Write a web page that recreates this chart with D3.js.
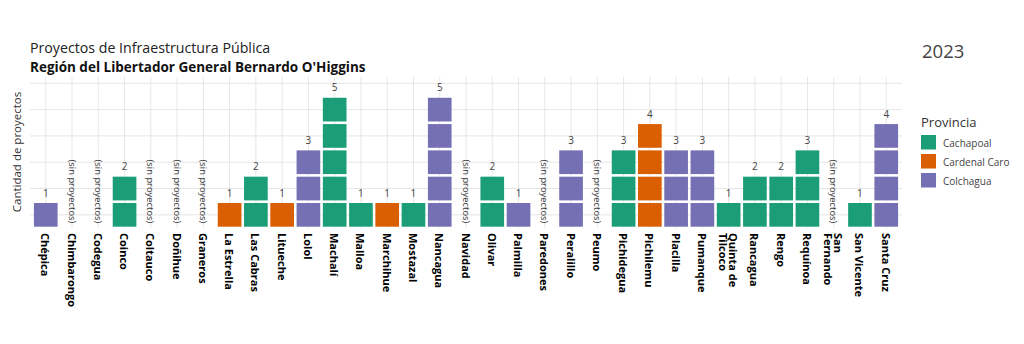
<!DOCTYPE html>
<html>
<head>
<meta charset="utf-8">
<script src="https://cdn.jsdelivr.net/npm/d3@7"></script>
<style>
  html, body { margin: 0; padding: 0; background: #ffffff; }
  svg { display: block; font-family: "Open Sans", "Noto Sans", sans-serif; }
</style>
</head>
<body>
<svg id="chart" width="1024" height="344"></svg>
<script>
// ---------- data ----------
const categories = ["Chépica","Chimbarongo","Codegua","Coinco","Coltauco","Doñihue","Graneros",
  "La Estrella","Las Cabras","Litueche","Lolol","Machalí","Malloa","Marchihue","Mostazal",
  "Nancagua","Navidad","Olivar","Palmilla","Paredones","Peralillo","Peumo","Pichidegua",
  "Pichilemu","Placilla","Pumanque","Quinta de Tilcoco","Rancagua","Rengo","Requínoa",
  "San Fernando","San Vicente","Santa Cruz"];
const counts = [1,0,0,2,0,0,0, 1,2,1,3,5,1,1,1, 5,0,2,1,0,3,0,3, 4,3,3,1,2,2,3, 0,1,4];
const provincia = ["Colchagua","Colchagua","Cachapoal","Cachapoal","Cachapoal","Cachapoal","Cachapoal",
  "Cardenal Caro","Cachapoal","Cardenal Caro","Colchagua","Cachapoal","Cachapoal","Cardenal Caro","Cachapoal",
  "Colchagua","Cardenal Caro","Cachapoal","Colchagua","Cardenal Caro","Colchagua","Cachapoal","Cachapoal",
  "Cardenal Caro","Colchagua","Colchagua","Cachapoal","Cachapoal","Cachapoal","Cachapoal",
  "Colchagua","Cachapoal","Colchagua"];
const provinciaNames = ["Cachapoal","Cardenal Caro","Colchagua"];
const provinciaColors = ["#1b9e77","#d95f02","#7570b3"];
const gridValues = [0.5,1.5,2.5,3.5,4.5,5.5];
const titleText = "Proyectos de Infraestructura Pública";
const subtitleText = "Región del Libertador General Bernardo O'Higgins";
const yearText = "2023";
const yTitle = "Cantidad de proyectos";
const legendTitle = "Provincia";
const emptyText = "(sin proyectos)";

// ---------- layout ----------
const svg = d3.select("#chart");
const panel = {left: 30, right: 902, top: 77, bottom: 228};

const x = d3.scalePoint().domain(categories).range([panel.left, panel.right]).padding(0.6);
const step = x.step();
const y = d3.scaleLinear().domain([0, 5.74]).range([panel.bottom, panel.top]);
const unit = y(0) - y(1);
const color = d3.scaleOrdinal().domain(provinciaNames).range(provinciaColors);

// grid
const grid = svg.append("g").attr("class", "grid");
grid.selectAll("line.h").data(gridValues).join("line")
  .attr("x1", panel.left).attr("x2", panel.right)
  .attr("y1", d => y(d)).attr("y2", d => y(d))
  .attr("stroke", "#e6e6e6").attr("stroke-width", 1);
grid.selectAll("line.v").data(categories).join("line")
  .attr("x1", d => x(d)).attr("x2", d => x(d))
  .attr("y1", panel.top).attr("y2", panel.bottom)
  .attr("stroke", "#e6e6e6").attr("stroke-width", 1);

// tiles
const tiles = [];
categories.forEach((c, i) => {
  for (let k = 1; k <= counts[i]; k++) tiles.push({c, k, p: provincia[i]});
});
const gap = 2.6;
svg.append("g").selectAll("rect").data(tiles).join("rect")
  .attr("x", d => x(d.c) - step / 2 + gap / 2)
  .attr("width", step - gap)
  .attr("y", d => y(d.k) + gap / 2)
  .attr("height", unit - gap)
  .attr("fill", d => color(d.p));

// count labels
const data = categories.map((c, i) => ({c, n: counts[i]}));
svg.append("g").selectAll("text").data(data.filter(d => d.n > 0)).join("text")
  .attr("x", d => x(d.c))
  .attr("y", d => y(d.n) - 5)
  .attr("text-anchor", "middle")
  .attr("font-size", 10)
  .attr("fill", "#444")
  .text(d => d.n);

// (sin proyectos)
svg.append("g").selectAll("text").data(data.filter(d => d.n === 0)).join("text")
  .attr("transform", d => `translate(${x(d.c)},${y(2.6)}) rotate(90)`)
  .attr("text-anchor", "start")
  .attr("dominant-baseline", "central")
  .attr("font-size", 9.4)
  .attr("fill", "#3a3a3a")
  .text(emptyText);

// x axis
const xAxis = svg.append("g")
  .attr("transform", `translate(0,${panel.bottom})`)
  .call(d3.axisBottom(x).tickSize(0).tickPadding(0));
xAxis.select(".domain").remove();
xAxis.selectAll(".tick text").each(function(d) {
  const t = d3.select(this);
  t.text(null)
    .attr("transform", "rotate(90)")
    .attr("x", 5).attr("y", 0).attr("dy", null)
    .attr("text-anchor", "start")
    .attr("dominant-baseline", "central")
    .attr("font-size", 11)
    .attr("font-weight", "bold")
    .attr("fill", "#000")
    .attr("font-family", "\"Open Sans\", sans-serif");
  let lines = [d];
  if (d.length >= 12 && d.indexOf(" ") > 0) {
    const i = d.lastIndexOf(" ");
    lines = [d.slice(0, i), d.slice(i + 1)];
  }
  const off = lines.length === 1 ? [0] : [-5, 5];
  lines.forEach((ln, j) => t.append("tspan").attr("x", 5).attr("y", off[j]).text(ln));
});

// titles
svg.append("text").attr("x", 30).attr("y", 53).attr("font-size", 14.2).attr("fill", "#222")
  .text(titleText);
svg.append("text").attr("x", 30).attr("y", 72).attr("font-size", 13.5).attr("font-weight", "bold").attr("fill", "#111")
  .text(subtitleText);
svg.append("text").attr("x", 922).attr("y", 58).attr("font-size", 18.5).attr("fill", "#444")
  .text(yearText);

// y title
svg.append("text")
  .attr("transform", `translate(21,152) rotate(-90)`)
  .attr("text-anchor", "middle")
  .attr("font-size", 11.5).attr("fill", "#333")
  .text(yTitle);

// legend
const lg = svg.append("g").attr("transform", "translate(921,0)");
lg.append("text").attr("x", 0).attr("y", 127).attr("font-size", 13).attr("fill", "#333").text(legendTitle);
const items = lg.selectAll("g.item").data(provinciaNames).join("g")
  .attr("transform", (d, i) => `translate(0,${135 + i * 19})`);
items.append("rect").attr("width", 15).attr("height", 14.5).attr("fill", d => color(d));
items.append("text").attr("x", 22).attr("y", 7.5).attr("dominant-baseline", "central")
  .attr("font-size", 10).attr("fill", "#444").text(d => d);
</script>
</body>
</html>
